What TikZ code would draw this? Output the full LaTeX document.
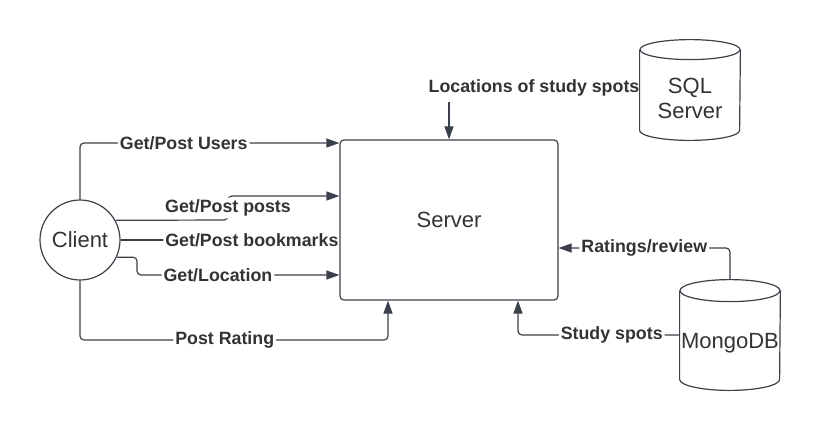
\documentclass[tikz,border=0pt]{standalone}
\usepackage{fontspec}
\setmainfont{Liberation Sans}
\usetikzlibrary
  {
    arrows.meta,  % triangle arrow heads
    calc,         % offsets from anchors
    backgrounds,  % connectors behind the boxes
  }

% cylinder round a named node (#2 = cap height, in picture units)
\newcommand\dbcylinder[2]{%
  \draw [line] ($(#1.north west)+(0,#2)$) -- ($(#1.south west)+(0,-#2)$)
    arc [start angle=180, end angle=360, x radius=25pt, y radius=#2*0.5pt]
    -- ($(#1.north east)+(0,#2)$);
  \draw [line] ($(#1.north)+(0,#2)$) ellipse [x radius=25pt, y radius=#2*0.5pt];
}

\begin{document}
\begin{tikzpicture}
    [
      x=0.5pt, y=-0.5pt,
      % Styles
      >={Triangle[length=6.5pt, width=4.5pt]},
      line/.style={draw=linecolor, line width=0.6pt},
      link/.style={line, ->, rounded corners=2pt},
      thick link/.style={link, line width=1.1pt},
      big text/.style={font=\fontsize{11}{12.5}\selectfont, text=textcolor},
      box/.style={line, big text, rounded corners=2pt, minimum width=109pt, minimum height=80pt},
      actor/.style={line, big text, circle, minimum size=40pt, inner sep=0pt},
      db/.style={inner sep=0pt, minimum width=50pt},
      db text/.style={big text, align=center, yshift=-4pt},
      lbl/.style={fill=white, inner sep=1pt, text=textcolor, font=\fontsize{8.9}{10}\selectfont\bfseries},
    ]

    % Colors
    \definecolor{linecolor}{HTML}{3A414A}
    \definecolor{textcolor}{HTML}{333333}

    \useasboundingbox (0,0) rectangle (820,430);

    \node [box] (server) at (449,220) {Server};
    \node [actor] (client) at (80,240) {Client};
    \node [lbl] (loclbl) at (534,88) {Locations of study spots};

    % databases
    \node [db, minimum height=50pt, label={[db text]center:SQL\\Server}] (sql) at (690,90) {};
    \dbcylinder{sql}{10}
    \node [db, minimum height=55pt, label={[db text]center:MongoDB}] (mongo) at (730,335) {};
    \dbcylinder{mongo}{11}

    \begin{scope}[on background layer]
      \draw [link] (client.north) |- node [lbl, pos=0.7] {Get/Post Users} (server.west |- 0,143);
      \draw [link] (client.29) -- (228,220) -- node [lbl] {Get/Post posts} (228,196) -- (server.west |- 0,196);
      \draw [thick link] (client.east) -- node [lbl, pos=0.6] {Get/Post bookmarks} (server.west |- client.east);
      \draw [link] (client.-25) -| (137,275) -- node [lbl, pos=0.4] {Get/Location} (server.west |- 0,275);
      \draw [link] (client.south) |- node [lbl, pos=0.735] {Post Rating} (388,340) -- (server.south -| 388,0);
      \draw [link] ($(loclbl.south -| server.north)+(0,3)$) -- (server.north);
      \draw [link] (mongo.north) |- node [lbl, pos=0.75] {Ratings/review} (server.east |- 0,248);
      \draw [link] (mongo.west) -| node [lbl, pos=0.21] {Study spots} (server.south -| 518,0);
    \end{scope}
  \end{tikzpicture}
\end{document}
